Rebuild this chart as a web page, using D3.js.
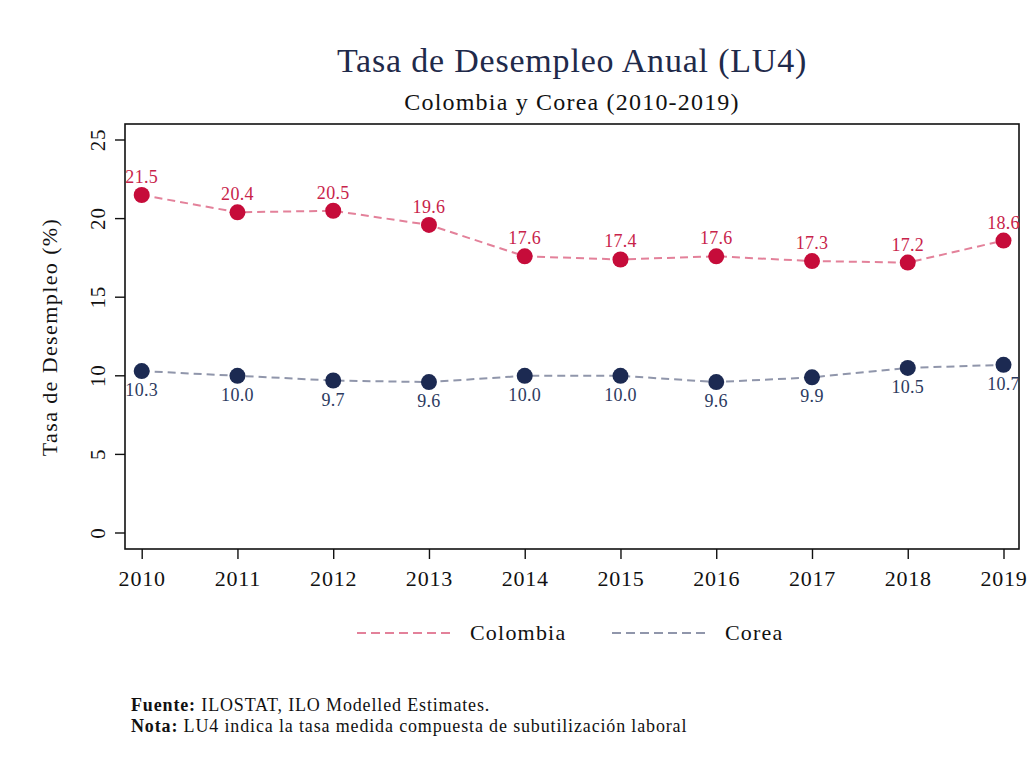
<!DOCTYPE html>
<html>
<head>
<meta charset="utf-8">
<script src="https://cdn.jsdelivr.net/npm/d3@7"></script>
<style>
  body { margin: 0; background: #fff; }
  text { font-family: "Liberation Serif", "DejaVu Serif", serif; }
</style>
</head>
<body>
<svg id="chart" width="1034" height="761"></svg>
<script>
var years = [2010, 2011, 2012, 2013, 2014, 2015, 2016, 2017, 2018, 2019];
var colombia = [21.5, 20.4, 20.5, 19.6, 17.6, 17.4, 17.6, 17.3, 17.2, 18.6];
var corea = [10.3, 10.0, 9.7, 9.6, 10.0, 10.0, 9.6, 9.9, 10.5, 10.7];
var yTicks = [0, 5, 10, 15, 20, 25];

var svg = d3.select("#chart");
svg.append("rect").attr("width", 1034).attr("height", 761).attr("fill", "#fff");

var frame = { left: 125, right: 1019, top: 124, bottom: 549 };

var x = d3.scaleLinear().domain([2010, 2019]).range([141.7, 1003.5]);
var y = d3.scaleLinear().domain([0, 25]).range([533, 140]);

var series = [
  { name: "Colombia", values: colombia, line: "#e3819a", dot: "#c60c3a", label: "#c8234a", above: true },
  { name: "Corea", values: corea, line: "#9096ab", dot: "#1c2a52", label: "#2c3a60", above: false }
];

// titles
svg.append("text").attr("x", 572).attr("y", 72).attr("text-anchor", "middle")
  .attr("font-size", 34).attr("letter-spacing", 0.8).attr("fill", "#1f2a4a").text("Tasa de Desempleo Anual (LU4)");
svg.append("text").attr("x", 572).attr("y", 110).attr("text-anchor", "middle")
  .attr("font-size", 24).attr("letter-spacing", 1.2).attr("fill", "#111").text("Colombia y Corea (2010-2019)");

// frame
svg.append("rect").attr("x", frame.left).attr("y", frame.top)
  .attr("width", frame.right - frame.left).attr("height", frame.bottom - frame.top)
  .attr("fill", "none").attr("stroke", "#111").attr("stroke-width", 1.6);

// y axis
var yAxis = svg.append("g").attr("transform", "translate(" + frame.left + ",0)")
  .call(d3.axisLeft(y).tickValues(yTicks).tickSize(10).tickPadding(10).tickFormat(d3.format("d")));
yAxis.select(".domain").remove();
yAxis.selectAll(".tick").attr("transform", null);
yAxis.selectAll(".tick line").attr("stroke", "#111").attr("stroke-width", 1.4)
  .attr("y1", function (d) { return y(d); }).attr("y2", function (d) { return y(d); });
yAxis.selectAll("text").attr("font-size", 21).attr("fill", "#111")
  .attr("font-family", "Liberation Serif").attr("letter-spacing", 0.8)
  .attr("x", -27).attr("y", function (d) { return y(d); })
  .attr("dy", "0.35em").attr("text-anchor", "middle")
  .attr("transform", function (d) { return "rotate(-90,-27," + y(d) + ")"; });

// x axis
var xAxis = svg.append("g").attr("transform", "translate(0," + frame.bottom + ")")
  .call(d3.axisBottom(x).tickValues(years).tickSize(10).tickPadding(11).tickFormat(d3.format("d")));
xAxis.select(".domain").remove();
xAxis.selectAll("line").attr("stroke", "#111").attr("stroke-width", 1.4);
xAxis.selectAll("text").attr("font-size", 22).attr("letter-spacing", 0.8)
  .attr("fill", "#111").attr("font-family", "Liberation Serif");

// y label
svg.append("text").attr("transform", "translate(57,337) rotate(-90)").attr("text-anchor", "middle")
  .attr("font-size", 22).attr("letter-spacing", 1.4).attr("fill", "#111").text("Tasa de Desempleo (%)");

var line = d3.line().x(function (d, i) { return x(years[i]); }).y(function (d) { return y(d); });

series.forEach(function (s) {
  var g = svg.append("g");
  g.append("path").datum(s.values).attr("d", line).attr("fill", "none")
    .attr("stroke", s.line).attr("stroke-width", 2).attr("stroke-dasharray", "8,5");
  g.selectAll("circle").data(s.values).enter().append("circle")
    .attr("cx", function (d, i) { return x(years[i]); })
    .attr("cy", function (d) { return y(d); })
    .attr("r", 8).attr("fill", s.dot);
  g.selectAll("text").data(s.values).enter().append("text")
    .attr("x", function (d, i) { return x(years[i]); })
    .attr("y", function (d) { return s.above ? y(d) - 12 : y(d) + 25; })
    .attr("text-anchor", "middle").attr("font-size", 18).attr("letter-spacing", 0.3).attr("fill", s.label)
    .text(function (d) { return d.toFixed(1); });
});

// legend
var legend = svg.append("g").attr("transform", "translate(0,633)");
var legPos = [357, 612];
series.forEach(function (s, i) {
  legend.append("line").attr("x1", legPos[i]).attr("x2", legPos[i] + 98).attr("y1", 0).attr("y2", 0)
    .attr("stroke", s.line).attr("stroke-width", 2).attr("stroke-dasharray", "9,5");
  legend.append("text").attr("x", legPos[i] + 113).attr("y", 7).attr("font-size", 22)
    .attr("letter-spacing", 1.2).attr("fill", "#111").text(s.name);
});

// notes
var notes = svg.append("g").attr("font-size", 18).attr("letter-spacing", 0.85).attr("fill", "#111");
var n1 = notes.append("text").attr("x", 131).attr("y", 711);
n1.append("tspan").attr("font-weight", "bold").text("Fuente:");
n1.append("tspan").text(" ILOSTAT, ILO Modelled Estimates.");
var n2 = notes.append("text").attr("x", 131).attr("y", 732);
n2.append("tspan").attr("font-weight", "bold").text("Nota:");
n2.append("tspan").text(" LU4 indica la tasa medida compuesta de subutilización laboral");
</script>
</body>
</html>
